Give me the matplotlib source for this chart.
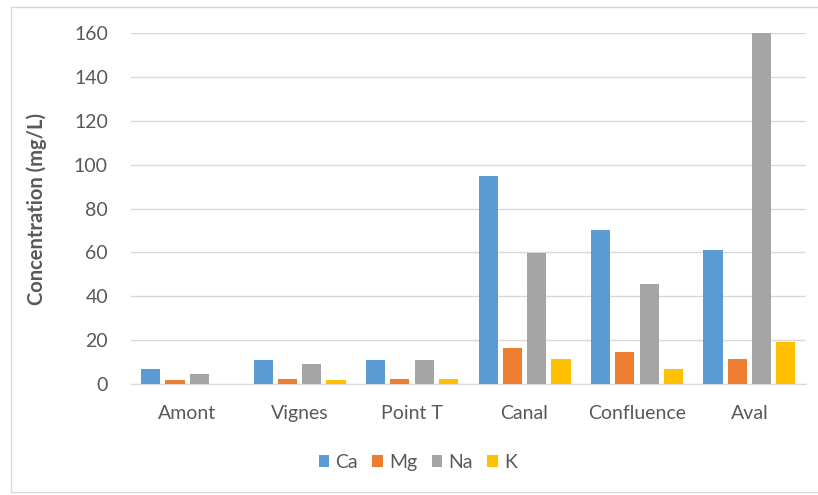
import numpy as np
import matplotlib.pyplot as plt
from matplotlib.patches import Rectangle

# Sampling sites and major cation concentrations (mg/L)
sites = ['Amont', 'Vignes', 'Point T', 'Canal', 'Confluence', 'Aval']
ca = [6.7, 10.9, 10.9, 94.7, 70.0, 60.9]
mg = [1.7, 2.1, 2.1, 16.5, 14.6, 11.4]
na = [4.7, 9.1, 10.9, 59.6, 45.8, 160.0]
k = [0.0, 1.7, 2.1, 11.4, 7.0, 19.2]

series = [('Ca', ca, '#5b9bd5'), ('Mg', mg, '#ed7d31'),
          ('Na', na, '#a5a5a5'), ('K', k, '#ffc000')]

plt.rcParams['font.family'] = ['Lato', 'DejaVu Sans']
text_color = '#595959'
fs = 14

fig = plt.figure(figsize=(8.18, 4.95), dpi=100)
ax = fig.add_axes([0.160, 0.2242, 0.825, 0.7091])

# light frame around the whole chart
fig.patches.append(Rectangle((11 / 818, 3 / 495), 1.0, 485 / 495,
                             transform=fig.transFigure, fill=False,
                             edgecolor='#d9d9d9', linewidth=1.0))

x = np.arange(len(sites))
pitch = 0.216
width = 0.17
for i, (name, vals, color) in enumerate(series):
    offs = (i - 1.5) * pitch
    ax.bar(x + offs, vals, width=width, color=color, label=name, zorder=3)

ax.set_xlim(-0.5, len(sites) - 0.5)
ax.set_ylim(0, 160)
ax.set_yticks(np.arange(0, 161, 20))
ax.set_xticks(x)
ax.set_xticklabels(sites)
ax.yaxis.grid(True, color='#d9d9d9', linewidth=1.0, zorder=0)
ax.tick_params(axis='both', length=0, labelsize=fs, labelcolor=text_color)
ax.tick_params(axis='y', pad=16.5)
ax.tick_params(axis='x', pad=15)
for side in ['top', 'right', 'left']:
    ax.spines[side].set_visible(False)
ax.spines['bottom'].set_color('#d9d9d9')

ax.set_ylabel('Concentration (mg/L)', fontsize=14.5, fontweight='bold',
              color=text_color)
ax.yaxis.set_label_coords(-0.124, 0.5)

ax.legend(loc='upper center', bbox_to_anchor=(0.425, -0.15), ncol=4,
          frameon=False, fontsize=fs, handlelength=0.55, handleheight=0.55,
          handletextpad=0.3, columnspacing=0.75, labelcolor=text_color)

fig.savefig('out.png', dpi=100)
